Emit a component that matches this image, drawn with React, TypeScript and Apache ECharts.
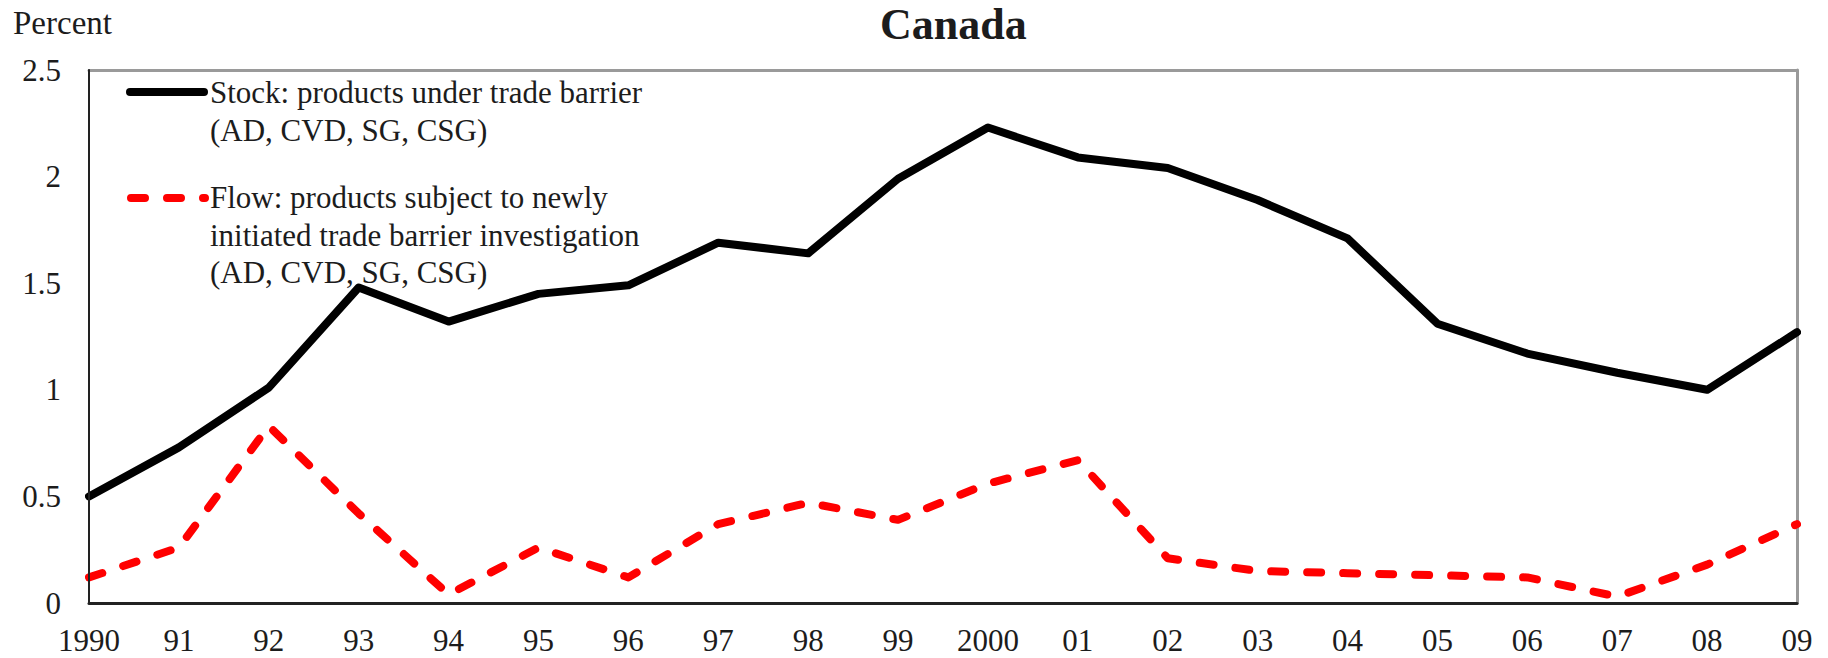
import React, { useEffect, useRef } from "react";
import * as echarts from "echarts";

const years = ["1990", "91", "92", "93", "94", "95", "96", "97", "98", "99", "2000", "01", "02", "03", "04", "05", "06", "07", "08", "09"];
const stockValues = [0.50, 0.73, 1.01, 1.48, 1.32, 1.45, 1.49, 1.69, 1.64, 1.99, 2.23, 2.09, 2.04, 1.89, 1.71, 1.31, 1.17, 1.08, 1.00, 1.27];
const flowValues = [0.12, 0.26, 0.83, 0.42, 0.04, 0.26, 0.12, 0.37, 0.47, 0.39, 0.56, 0.67, 0.21, 0.15, 0.14, 0.13, 0.12, 0.03, 0.18, 0.37];
const stockName = "Stock: products under trade barrier\n(AD, CVD, SG, CSG)";
const flowName = "Flow: products subject to newly\ninitiated trade barrier investigation\n(AD, CVD, SG, CSG)";
const chartTitle = "Canada";
const yUnit = "Percent";

const FONT = "'Liberation Serif', 'Times New Roman', serif";
const TXT = "#1c1c1c";

export default function App() {
  const ref = useRef<HTMLDivElement>(null);
  useEffect(() => {
    if (!ref.current) return;
    const chart = echarts.init(ref.current, null, { renderer: "svg" });
    chart.setOption({
      animation: false,
      backgroundColor: "#ffffff",
      title: [
        {
          text: chartTitle,
          left: 880,
          top: 2,
          padding: 0,
          textStyle: { fontFamily: FONT, fontSize: 44, fontWeight: "bold", color: TXT },
        },
        {
          text: yUnit,
          left: 13,
          top: 6,
          padding: 0,
          textStyle: { fontFamily: FONT, fontSize: 33, fontWeight: "normal", color: TXT },
        },
      ],
      grid: { left: 89, right: 31, top: 70, bottom: 55, containLabel: false },
      xAxis: [
        {
          type: "category",
          data: years,
          boundaryGap: false,
          axisLine: { show: true, onZero: false, lineStyle: { color: "#222", width: 3 } },
          axisTick: { show: false },
          axisLabel: { fontFamily: FONT, fontSize: 31, color: TXT, margin: 22, interval: 0 },
          splitLine: { show: false },
          z: 5,
        },
        {
          type: "category",
          data: years,
          position: "top",
          boundaryGap: false,
          axisLine: { show: true, onZero: false, lineStyle: { color: "#9a9a9a", width: 3 } },
          axisTick: { show: false },
          axisLabel: { show: false },
          splitLine: { show: false },
        },
      ],
      yAxis: [
        {
          type: "value",
          min: 0,
          max: 2.5,
          interval: 0.5,
          axisLine: { show: true, onZero: false, lineStyle: { color: "#222", width: 2 } },
          axisTick: { show: false },
          axisLabel: { fontFamily: FONT, fontSize: 31, color: TXT, margin: 28 },
          splitLine: { show: false },
          z: 5,
        },
        {
          type: "value",
          position: "right",
          min: 0,
          max: 2.5,
          interval: 0.5,
          axisLine: { show: true, onZero: false, lineStyle: { color: "#9a9a9a", width: 3 } },
          axisTick: { show: false },
          axisLabel: { show: false },
          splitLine: { show: false },
        },
      ],
      series: [
        {
          name: stockName,
          type: "line",
          data: stockValues,
          symbol: "none",
          lineStyle: { color: "#000000", width: 8, cap: "round", join: "round" },
          itemStyle: { color: "#000000" },
          z: 3,
        },
        {
          name: flowName,
          type: "line",
          data: flowValues,
          symbol: "none",
          lineStyle: { color: "#ff0000", width: 8, type: [14, 22], cap: "round", join: "round" },
          itemStyle: { color: "#ff0000" },
          z: 2,
        },
      ],
      graphic: [
        {
          type: "line",
          shape: { x1: 130, y1: 92, x2: 204, y2: 92 },
          style: { stroke: "#000000", lineWidth: 8, lineCap: "round" },
        },
        {
          type: "text",
          x: 210,
          y: 73,
          style: {
            text: stockName,
            fontFamily: FONT,
            fontSize: 31,
            lineHeight: 38,
            fill: TXT,
            verticalAlign: "top",
            align: "left",
          },
        },
        {
          type: "line",
          shape: { x1: 131, y1: 198, x2: 205, y2: 198 },
          style: { stroke: "#ff0000", lineWidth: 8, lineCap: "round", lineDash: [14, 22] },
        },
        {
          type: "text",
          x: 210,
          y: 179,
          style: {
            text: flowName,
            fontFamily: FONT,
            fontSize: 31,
            lineHeight: 37.5,
            fill: TXT,
            verticalAlign: "top",
            align: "left",
          },
        },
      ],
    });
    return () => chart.dispose();
  }, []);
  return (
    <div
      ref={ref}
      style={{ position: "fixed", left: 0, top: 0, width: 1828, height: 658, background: "#fff" }}
    />
  );
}
